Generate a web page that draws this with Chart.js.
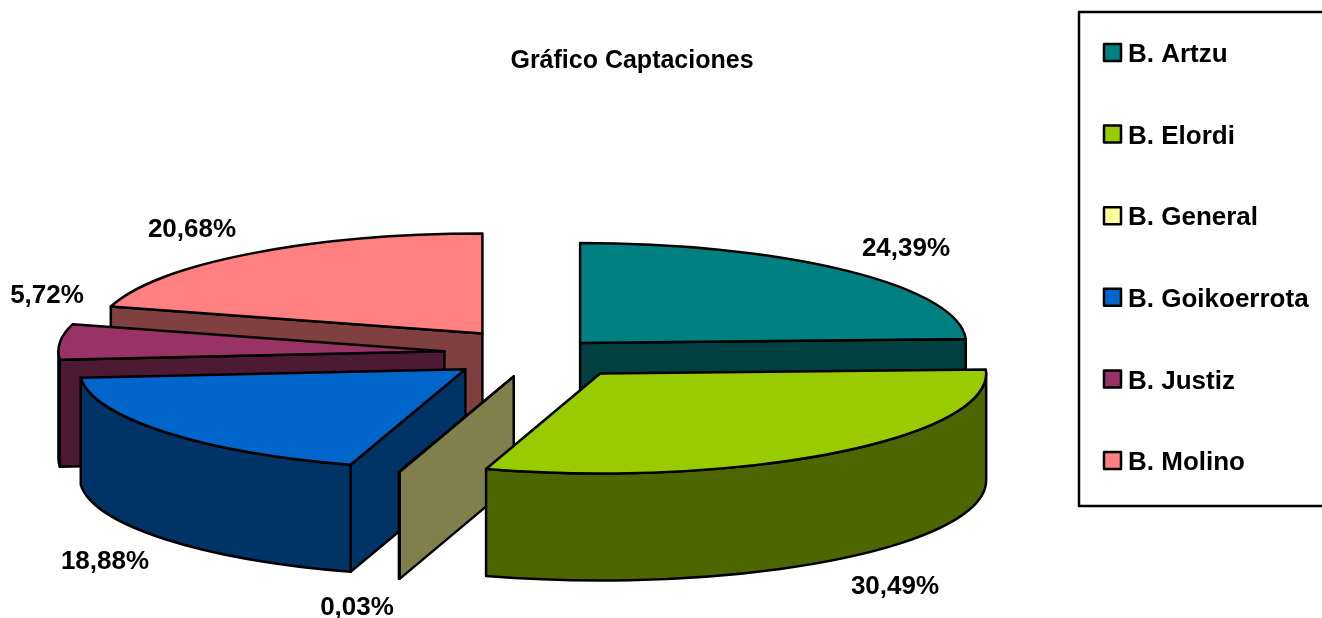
<!DOCTYPE html>
<html>
<head>
<meta charset="utf-8">
<title>Gráfico Captaciones</title>
<script src="https://cdn.jsdelivr.net/npm/chart.js@4/dist/chart.umd.min.js"></script>
<style>
    html, body { margin: 0; padding: 0; background: #fff; overflow: hidden; }
    canvas { display: block; }
</style>
</head>
<body>
<canvas id="chart" width="1322" height="618"></canvas>
<script>
    // Data
    const categories = ['B. Artzu', 'B. Elordi', 'B. General', 'B. Goikoerrota', 'B. Justiz', 'B. Molino'];
    const shares = [24.39, 30.49, 0.03, 18.88, 5.72, 20.68];
    const sliceColors = ['#008080', '#99CC00', '#FFFF99', '#0066CC', '#993366', '#FF8080'];
    const sideColors = ['#004040', '#4D6600', '#80804D', '#003366', '#4D1A33', '#804040'];
    const explode = [56.5, 97, 92, 97, 97, 97];

    // Layout of the tilted pie
    const FONT = "bold 26px 'Liberation Sans', Arial, sans-serif";
    const pieCenter = { x: 541, y: 353.6 };
    const pieRadius = 386;
    const squash = 0.259;
    const pieDepth = 107;
    const paintOrder = [5, 0, 4, 3, 2, 1];  // back to front
    const labelSpots = [[906, 248.5], [895, 586.5], [357, 607.5], [105, 561.5], [47, 295.5], [192, 229.5]];

    function formatShare(value) {
        return value.toFixed(2).replace('.', ',') + '%';
    }

    /**
     * Where a slice's apex lands on screen, after its explosion and the tilt
     */
    function sliceGeometry(arc, shift) {
        const mid = (arc.startAngle + arc.endAngle) / 2;
        return {
            x: pieCenter.x + Math.cos(mid) * shift,
            y: pieCenter.y + Math.sin(mid) * shift * squash,
            rx: arc.outerRadius,
            ry: arc.outerRadius * squash,
            a0: arc.startAngle,
            a1: arc.endAngle
        };
    }

    function fillAndStroke(ctx, color) {
        ctx.fillStyle = color;
        ctx.fill();
        ctx.stroke();
    }

    function drawRadialWall(ctx, g, angle, color) {
        const px = g.x + Math.cos(angle) * g.rx;
        const py = g.y + Math.sin(angle) * g.ry;
        ctx.beginPath();
        ctx.moveTo(g.x, g.y);
        ctx.lineTo(px, py);
        ctx.lineTo(px, py + pieDepth);
        ctx.lineTo(g.x, g.y + pieDepth);
        ctx.closePath();
        fillAndStroke(ctx, color);
    }

    function drawRimWall(ctx, g, color) {
        const from = Math.max(g.a0, 0);
        const to = Math.min(g.a1, Math.PI);
        if (to <= from) return;
        ctx.beginPath();
        ctx.ellipse(g.x, g.y, g.rx, g.ry, 0, from, to);
        ctx.ellipse(g.x, g.y + pieDepth, g.rx, g.ry, 0, to, from, true);
        ctx.closePath();
        fillAndStroke(ctx, color);
    }

    const tiltedPie = {
        id: 'tiltedPie',
        beforeDatasetDraw(chart, args) {
            const ctx = chart.ctx;
            const arcs = args.meta.data;
            ctx.lineWidth = 2.5;
            ctx.lineJoin = 'round';
            ctx.strokeStyle = '#000';

            paintOrder.forEach(i => {
                const arc = arcs[i];
                const g = sliceGeometry(arc, explode[i]);

                // the cut faces that turn towards the viewer, then the rim
                if (Math.cos(g.a0) < 0) drawRadialWall(ctx, g, g.a0, sideColors[i]);
                if (Math.cos(g.a1) > 0) drawRadialWall(ctx, g, g.a1, sideColors[i]);
                drawRimWall(ctx, g, sideColors[i]);

                // top face is the library's own arc, squashed
                ctx.save();
                ctx.translate(g.x - arc.x, g.y);
                ctx.scale(1, squash);
                ctx.translate(0, -arc.y);
                arc.draw(ctx);
                ctx.restore();

                ctx.beginPath();
                ctx.moveTo(g.x, g.y);
                ctx.ellipse(g.x, g.y, g.rx, g.ry, 0, g.a0, g.a1);
                ctx.closePath();
                ctx.stroke();
            });
            return false;
        },
        afterDraw(chart) {
            const ctx = chart.ctx;
            ctx.save();
            ctx.font = FONT;
            ctx.fillStyle = '#000';
            ctx.textBaseline = 'middle';

            // value labels
            ctx.textAlign = 'center';
            shares.forEach((value, i) => {
                ctx.fillText(formatShare(value), labelSpots[i][0], labelSpots[i][1]);
            });

            // legend frame runs off the right edge
            ctx.lineWidth = 2.5;
            ctx.strokeStyle = '#000';
            ctx.strokeRect(1079, 12, 260, 494);

            ctx.textAlign = 'left';
            categories.forEach((name, i) => {
                const y = 53 + i * 81.6;
                ctx.fillStyle = sliceColors[i];
                ctx.fillRect(1104, y - 9, 17, 17);
                ctx.strokeRect(1104, y - 9, 17, 17);
                ctx.fillStyle = '#000';
                ctx.fillText(name, 1128, y + 2);
            });
            ctx.restore();
        }
    };

    new Chart(document.getElementById('chart'), {
        type: 'pie',
        data: {
            labels: categories,
            datasets: [{
                data: shares,
                backgroundColor: sliceColors,
                borderWidth: 0
            }]
        },
        options: {
            responsive: false,
            animation: false,
            events: [],
            radius: pieRadius,
            layout: { padding: { top: 46, right: 58 } },
            plugins: {
                legend: { display: false },
                tooltip: { enabled: false },
                title: {
                    display: true,
                    text: 'Gráfico Captaciones',
                    color: '#000',
                    font: { family: "'Liberation Sans', Arial, sans-serif", size: 25, weight: 'bold' },
                    padding: 0
                }
            }
        },
        plugins: [tiltedPie]
    });
</script>
</body>
</html>
